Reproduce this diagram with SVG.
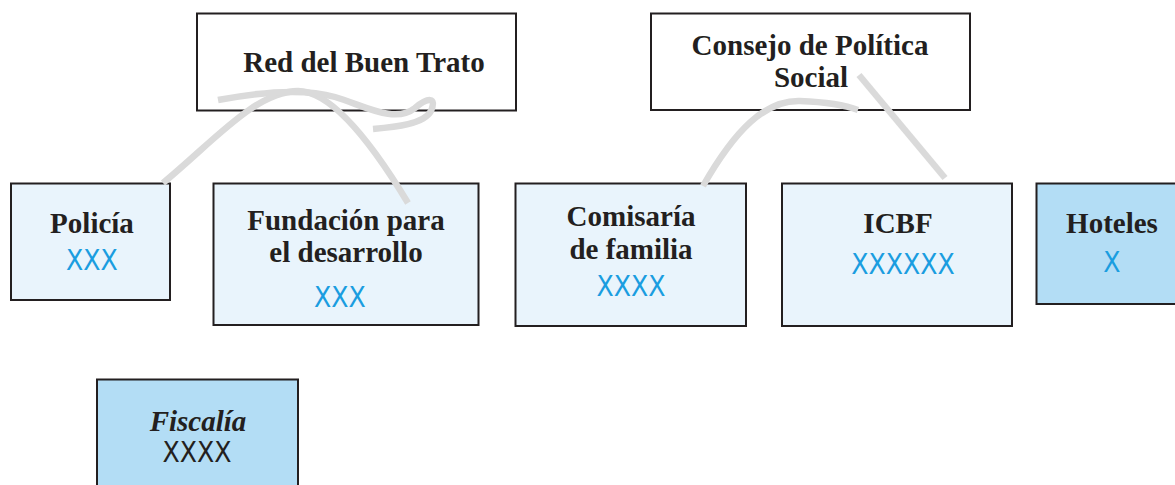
<svg xmlns="http://www.w3.org/2000/svg" width="1175" height="485" viewBox="0 0 1175 485">
<style>
.box{stroke:#231f20;stroke-width:2}
.top{fill:#ffffff}
.light{fill:#e9f4fc}
.dark{fill:#b3ddf5}
.t{font-family:"Liberation Serif","Times New Roman",serif;font-weight:bold;font-size:29px;fill:#231f20;text-anchor:middle}
.it{font-style:italic}
.x{font-family:"DejaVu Sans Condensed","Liberation Sans",sans-serif;font-stretch:condensed;font-size:28px;fill:#1a9de0;text-anchor:middle}
.xk{fill:#231f20}
.c{fill:none;stroke:#dadada;stroke-width:6.5;stroke-linecap:butt}
</style>
<g id="red-buen-trato">
<rect class="box top" x="197" y="13.5" width="319" height="97"/>
<text class="t" x="364" y="72">Red del Buen Trato</text>
</g>
<g id="consejo">
<rect class="box top" x="651" y="13.5" width="319" height="96.5"/>
<text class="t" x="810" y="55">Consejo de Política</text>
<text class="t" x="811" y="87">Social</text>
</g>
<g id="policia">
<rect class="box light" x="11" y="183.5" width="159" height="116.5"/>
<text class="t" x="92" y="233">Policía</text>
<text class="x" x="92" y="270">XXX</text>
</g>
<g id="fundacion">
<rect class="box light" x="213.5" y="183.5" width="265" height="141.5"/>
<text class="t" x="346" y="230">Fundación para</text>
<text class="t" x="346" y="262">el desarrollo</text>
<text class="x" x="340" y="307">XXX</text>
</g>
<g id="comisaria">
<rect class="box light" x="515.5" y="183.5" width="230.5" height="142.5"/>
<text class="t" x="631" y="226">Comisaría</text>
<text class="t" x="631" y="259">de familia</text>
<text class="x" x="631" y="296">XXXX</text>
</g>
<g id="icbf">
<rect class="box light" x="782" y="183.5" width="230" height="142.5"/>
<text class="t" x="898" y="233">ICBF</text>
<text class="x" x="903" y="274">XXXXXX</text>
</g>
<g id="hoteles">
<rect class="box dark" x="1036.5" y="183.5" width="150" height="120.5"/>
<text class="t" x="1112" y="233">Hoteles</text>
<text class="x" x="1112" y="272">X</text>
</g>
<g id="fiscalia">
<rect class="box dark" x="97" y="379.5" width="201" height="120"/>
<text class="t it" x="198" y="431">Fiscalía</text>
<text class="x xk" x="197" y="462">XXXX</text>
</g>
<g id="connectors">
<path class="c" d="M163,183 C215,140 255,92 298,91 C330,91 370,140 408,203"/>
<path class="c" d="M218,100 C255,93 300,87 335,97 C365,106 395,124 415,108 C428,97 437,97 431,111 C424,124 396,127 373,129"/>
<path class="c" d="M703,186 C735,130 765,100 800,101 C825,102 845,105 858,110"/>
<path class="c" d="M859,75 L945,178"/>
</g>
</svg>
